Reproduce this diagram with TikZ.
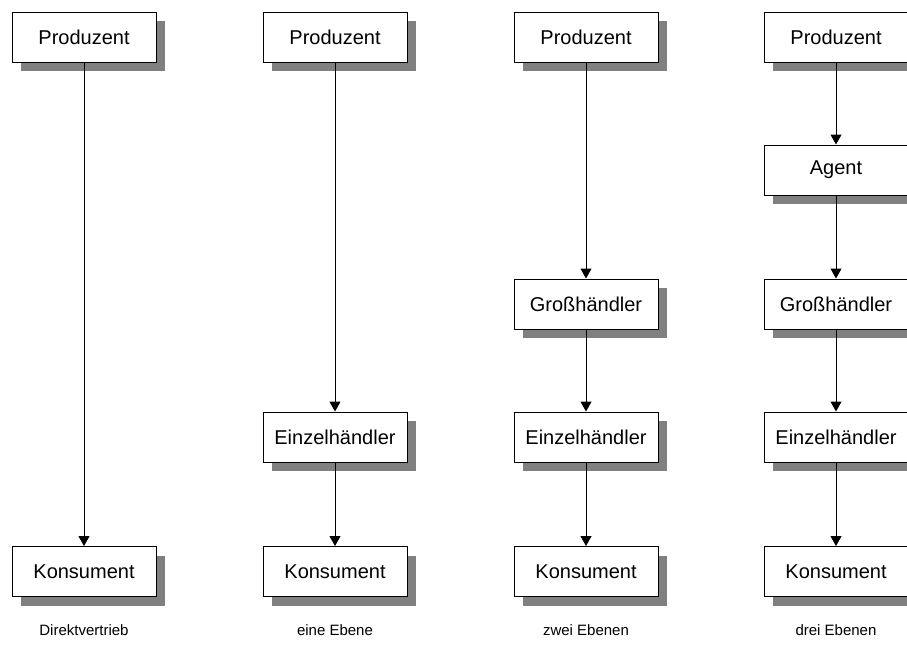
\documentclass[tikz,border=0pt]{standalone}
\usepackage{fontspec}
\setmainfont{Liberation Sans}
\usetikzlibrary{arrows.meta,shadows}
\begin{document}
\begin{tikzpicture}[x=1pt,y=-1pt,
  stage/.style={draw=black, line width=1pt, fill=white, minimum width=144pt,
    minimum height=50pt, inner sep=0pt, font=\fontsize{20}{24}\selectfont,
    drop shadow={shadow xshift=9pt, shadow yshift=-9pt, fill=black!50, opacity=1}},
  flow/.style={draw=black, line width=1pt, -{Triangle[length=10pt,width=11pt]}},
  caption/.style={font=\fontsize{15}{18}\selectfont}]
\useasboundingbox (0,0) rectangle (907,646);

% Direktvertrieb
\node[stage] (p1) at (84,37) {Produzent};
\node[stage] (k1) at (84,571.5) {Konsument};
\draw[flow] (p1) -- (k1);
\node[caption] (c1) at (84,630) {Direktvertrieb};

% eine Ebene
\node[stage] (p2) at (335,37) {Produzent};
\node[stage] (e2) at (335,437) {Einzelhändler};
\node[stage] (k2) at (335,571.5) {Konsument};
\draw[flow] (p2) -- (e2);
\draw[flow] (e2) -- (k2);
\node[caption] (c2) at (335,630) {eine Ebene};

% zwei Ebenen
\node[stage] (p3) at (586,37) {Produzent};
\node[stage] (g3) at (586,304) {Großhändler};
\node[stage] (e3) at (586,437) {Einzelhändler};
\node[stage] (k3) at (586,571.5) {Konsument};
\draw[flow] (p3) -- (g3);
\draw[flow] (g3) -- (e3);
\draw[flow] (e3) -- (k3);
\node[caption] (c3) at (586,630) {zwei Ebenen};

% drei Ebenen
\node[stage] (p4) at (836,37) {Produzent};
\node[stage] (a4) at (836,170) {Agent};
\node[stage] (g4) at (836,304) {Großhändler};
\node[stage] (e4) at (836,437) {Einzelhändler};
\node[stage] (k4) at (836,571.5) {Konsument};
\draw[flow] (p4) -- (a4);
\draw[flow] (a4) -- (g4);
\draw[flow] (g4) -- (e4);
\draw[flow] (e4) -- (k4);
\node[caption] (c4) at (836,630) {drei Ebenen};
\end{tikzpicture}
\end{document}
